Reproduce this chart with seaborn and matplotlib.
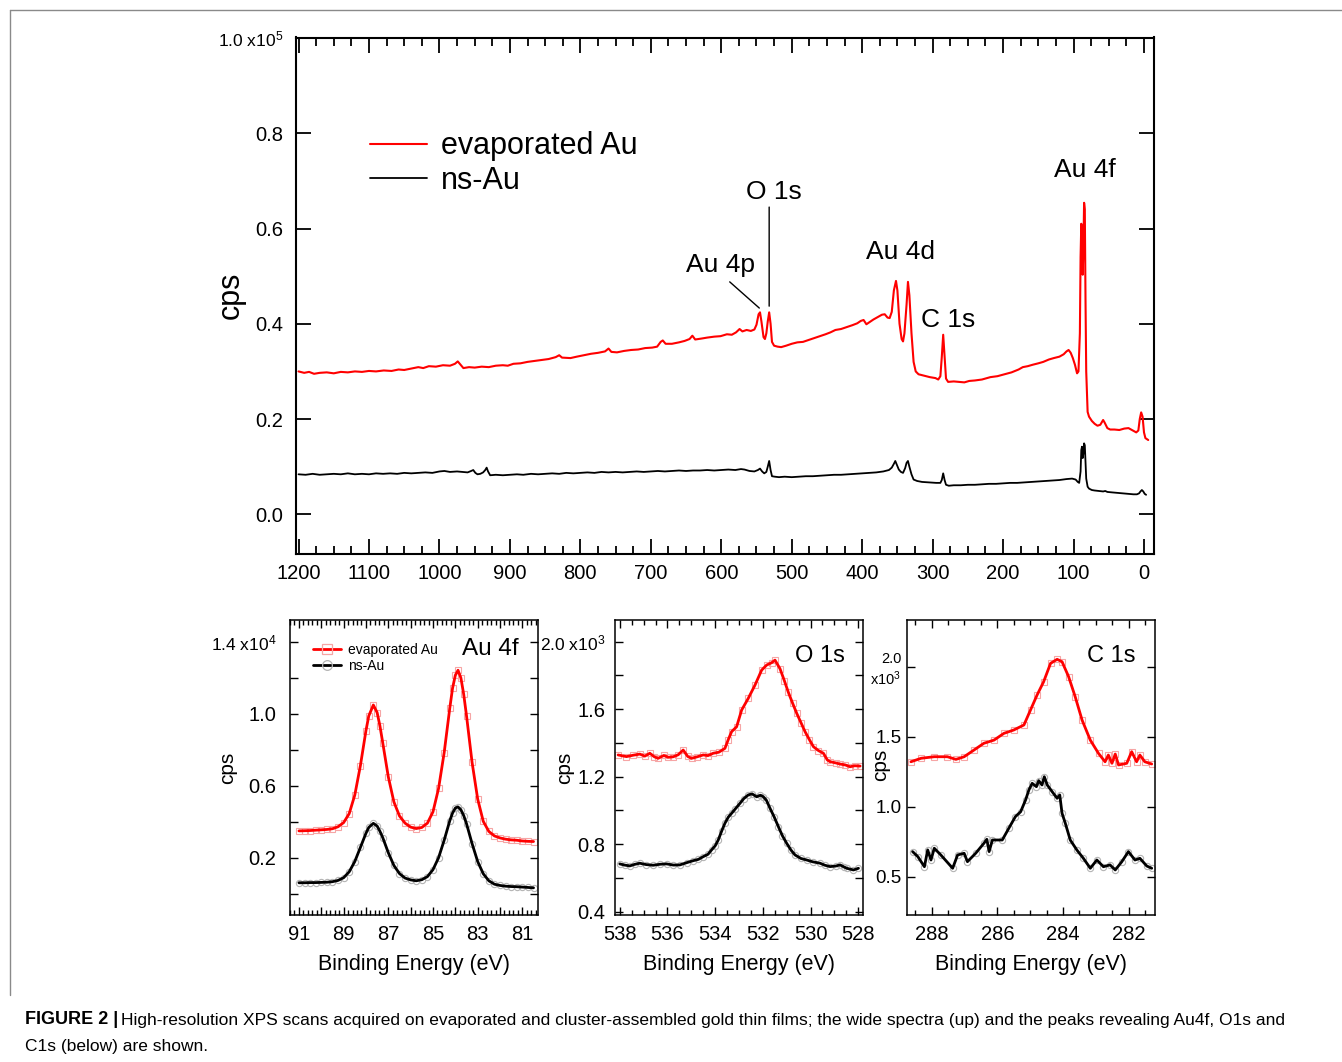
import matplotlib
matplotlib.use("Agg")
import matplotlib.pyplot as plt
from matplotlib.lines import Line2D
from matplotlib.ticker import FixedLocator, FuncFormatter, MultipleLocator
import pandas as pd
import seaborn as sns

# ---- wide survey (cps in units of 1e5) ----
survey_be_evap = [
    1200, 1192, 1185, 1178, 1170, 1160, 1150, 1140, 1130, 1120,
    1110, 1100, 1090, 1079, 1068, 1058, 1050, 1040, 1030, 1023,
    1015, 1005, 995, 985, 978, 974, 970, 966, 958, 950,
    940, 930, 920, 910, 903, 895, 885, 875, 865, 855,
    845, 835, 830, 826, 814, 805, 795, 785, 775, 765,
    760, 756, 748, 738, 728, 718, 708, 698, 691, 686,
    683, 679, 670, 660, 652, 645, 641, 637, 628, 620,
    610, 601, 592, 585, 579, 574, 570, 564, 558, 553,
    550, 547, 545, 543, 540, 538, 536, 534, 532, 530,
    528, 525, 520, 515, 508, 500, 492, 484, 476, 468,
    460, 452, 445, 438, 430, 422, 414, 407, 402, 398,
    394, 390, 384, 378, 372, 368, 364, 361, 358, 355,
    352, 350, 347, 344, 342, 340, 337, 335, 333, 330,
    327, 324, 320, 312, 304, 296, 292, 289, 287, 285,
    283, 281, 278, 270, 262, 255, 248, 240, 230, 218,
    208, 198, 188, 178, 172, 165, 158, 150, 143, 135,
    128, 120, 114, 110, 107, 104, 101, 98, 95, 93,
    91, 90, 89, 88, 87, 86, 85, 84, 83, 82,
    80, 78, 74, 70, 66, 62, 58, 56, 52, 48,
    42, 35, 28, 22, 16, 11, 8, 6, 4, 2,
    0, -2, -6,
]
survey_cps_evap = [
    0.300, 0.297, 0.299, 0.295, 0.297, 0.298, 0.296, 0.299, 0.298, 0.300,
    0.299, 0.301, 0.300, 0.302, 0.301, 0.304, 0.303, 0.306, 0.309, 0.307,
    0.311, 0.310, 0.313, 0.312, 0.316, 0.321, 0.314, 0.307, 0.309, 0.308,
    0.310, 0.309, 0.312, 0.313, 0.312, 0.316, 0.317, 0.320, 0.322, 0.324,
    0.326, 0.330, 0.334, 0.329, 0.328, 0.331, 0.334, 0.337, 0.339, 0.342,
    0.348, 0.341, 0.340, 0.343, 0.345, 0.346, 0.349, 0.350, 0.352, 0.362,
    0.365, 0.358, 0.358, 0.361, 0.364, 0.368, 0.375, 0.367, 0.369, 0.371,
    0.373, 0.374, 0.378, 0.377, 0.382, 0.389, 0.384, 0.387, 0.385, 0.388,
    0.398, 0.420, 0.424, 0.405, 0.372, 0.368, 0.380, 0.405, 0.424, 0.400,
    0.362, 0.354, 0.352, 0.351, 0.354, 0.358, 0.361, 0.362, 0.366, 0.370,
    0.374, 0.378, 0.382, 0.387, 0.389, 0.393, 0.397, 0.401, 0.406, 0.408,
    0.399, 0.403, 0.409, 0.414, 0.419, 0.420, 0.413, 0.412, 0.425, 0.470,
    0.490, 0.470, 0.400, 0.368, 0.363, 0.380, 0.440, 0.488, 0.460, 0.380,
    0.320, 0.300, 0.294, 0.291, 0.288, 0.286, 0.283, 0.290, 0.330, 0.377,
    0.330, 0.285, 0.278, 0.279, 0.278, 0.277, 0.280, 0.281, 0.283, 0.288,
    0.290, 0.294, 0.298, 0.304, 0.309, 0.311, 0.314, 0.317, 0.320, 0.325,
    0.328, 0.331, 0.336, 0.342, 0.345, 0.339, 0.328, 0.314, 0.296, 0.300,
    0.380, 0.540, 0.610, 0.590, 0.503, 0.560, 0.654, 0.640, 0.450, 0.300,
    0.215, 0.205, 0.196, 0.190, 0.186, 0.188, 0.198, 0.193, 0.181, 0.178,
    0.178, 0.177, 0.180, 0.181, 0.176, 0.172, 0.176, 0.200, 0.214, 0.205,
    0.172, 0.160, 0.156,
]
survey_be_ns = [
    1200, 1190, 1180, 1170, 1160, 1150, 1140, 1130, 1120, 1110,
    1100, 1090, 1080, 1070, 1060, 1050, 1040, 1030, 1020, 1010,
    1000, 993, 985, 975, 968, 960, 955, 952, 949, 946,
    942, 938, 935, 933, 931, 928, 920, 910, 900, 890,
    881, 870, 860, 850, 840, 830, 820, 810, 800, 790,
    780, 770, 760, 750, 740, 730, 720, 710, 700, 690,
    680, 670, 660, 650, 640, 630, 620, 610, 600, 590,
    580, 572, 567, 560, 553, 548, 545, 542, 539, 536,
    534, 532, 530, 528, 524, 518, 510, 500, 490, 480,
    470, 460, 450, 440, 430, 420, 410, 400, 390, 380,
    370, 362, 358, 355, 353, 351, 348, 345, 342, 339,
    337, 335, 333, 330, 327, 322, 315, 305, 295, 289,
    287, 285, 283, 281, 277, 270, 260, 250, 240, 230,
    220, 210, 200, 190, 180, 170, 160, 150, 140, 130,
    120, 110, 102, 97, 94, 92, 90, 89, 88, 87,
    86, 85, 84, 83, 82, 80, 78, 74, 70, 64,
    58, 55, 52, 45, 38, 30, 22, 15, 10, 7,
    5, 3, 1, -1, -3,
]
survey_cps_ns = [
    0.084, 0.083, 0.085, 0.083, 0.084, 0.085, 0.084, 0.086, 0.084, 0.085,
    0.084, 0.086, 0.085, 0.086, 0.085, 0.087, 0.086, 0.087, 0.088, 0.087,
    0.090, 0.091, 0.089, 0.090, 0.089, 0.088, 0.091, 0.093, 0.087, 0.084,
    0.085, 0.088, 0.093, 0.098, 0.090, 0.082, 0.083, 0.082, 0.083, 0.084,
    0.083, 0.085, 0.084, 0.085, 0.086, 0.085, 0.087, 0.086, 0.087, 0.088,
    0.087, 0.089, 0.088, 0.089, 0.088, 0.089, 0.090, 0.089, 0.090, 0.091,
    0.090, 0.091, 0.092, 0.091, 0.092, 0.092, 0.093, 0.092, 0.093, 0.094,
    0.093, 0.095, 0.094, 0.091, 0.090, 0.093, 0.096, 0.090, 0.086, 0.089,
    0.100, 0.112, 0.093, 0.080, 0.079, 0.078, 0.079, 0.078, 0.079, 0.080,
    0.080, 0.081, 0.082, 0.083, 0.083, 0.084, 0.085, 0.086, 0.087, 0.088,
    0.090, 0.093, 0.098, 0.106, 0.112, 0.105, 0.094, 0.089, 0.087, 0.097,
    0.108, 0.112, 0.100, 0.084, 0.073, 0.070, 0.068, 0.067, 0.066, 0.066,
    0.072, 0.086, 0.072, 0.062, 0.060, 0.061, 0.061, 0.062, 0.062, 0.063,
    0.064, 0.064, 0.065, 0.066, 0.066, 0.067, 0.068, 0.069, 0.070, 0.071,
    0.072, 0.074, 0.075, 0.073, 0.068, 0.066, 0.090, 0.135, 0.142, 0.118,
    0.128, 0.149, 0.145, 0.110, 0.075, 0.058, 0.054, 0.051, 0.050, 0.049,
    0.048, 0.049, 0.047, 0.046, 0.045, 0.044, 0.043, 0.042, 0.042, 0.044,
    0.048, 0.051, 0.048, 0.043, 0.041,
]

# peak labels of the survey: (text, eV, cps)
survey_labels = [("Au 4p", 601, 0.523), ("O 1s", 526, 0.676), ("Au 4d", 346, 0.550),
                 ("C 1s", 278, 0.408), ("Au 4f", 84, 0.722)]

# ---- Au 4f (cps in units of 1e4) ----
au4f_be = [
    91.0, 90.75, 90.5, 90.25, 90.0, 89.75, 89.5, 89.25, 89.0, 88.75,
    88.5, 88.25, 88.0, 87.875, 87.67, 87.5, 87.375, 87.25, 87.0, 86.75,
    86.5, 86.25, 86.0, 85.75, 85.5, 85.25, 85.0, 84.75, 84.5, 84.25,
    84.125, 84.0, 83.88, 83.75, 83.625, 83.5, 83.25, 83.0, 82.75, 82.5,
    82.25, 82.0, 81.75, 81.5, 81.25, 81.0, 80.75, 80.5,
]
au4f_evap = [
    0.349, 0.350, 0.351, 0.353, 0.355, 0.357, 0.361, 0.372, 0.395, 0.445,
    0.548, 0.711, 0.906, 0.987, 1.048, 1.006, 0.932, 0.839, 0.649, 0.510,
    0.432, 0.392, 0.370, 0.362, 0.368, 0.392, 0.455, 0.585, 0.783, 1.029,
    1.141, 1.213, 1.241, 1.198, 1.107, 0.989, 0.729, 0.526, 0.402, 0.346,
    0.321, 0.310, 0.303, 0.299, 0.297, 0.293, 0.291, 0.290,
]
au4f_ns = [
    0.061, 0.061, 0.062, 0.062, 0.063, 0.064, 0.067, 0.074, 0.089, 0.122,
    0.179, 0.257, 0.336, 0.368, 0.391, 0.376, 0.347, 0.312, 0.228, 0.157,
    0.112, 0.087, 0.077, 0.072, 0.078, 0.095, 0.134, 0.200, 0.297, 0.405,
    0.448, 0.476, 0.482, 0.466, 0.434, 0.389, 0.278, 0.179, 0.111, 0.072,
    0.053, 0.046, 0.042, 0.040, 0.039, 0.037, 0.035, 0.033,
]

# ---- O 1s (cps in units of 1e3) ----
o1s_be_evap = [
    538.07, 537.72, 537.45, 537.16, 536.95, 536.74, 536.55, 536.39, 536.15, 535.96,
    535.76, 535.55, 535.34, 535.15, 534.99, 534.75, 534.50, 534.30, 534.08, 533.85,
    533.59, 533.45, 533.31, 533.10, 532.89, 532.61, 532.33, 532.05, 531.84, 531.63,
    531.49, 531.28, 531.10, 530.93, 530.75, 530.58, 530.40, 530.23, 530.05, 529.88,
    529.67, 529.46, 529.30, 529.18, 528.95, 528.76, 528.55, 528.34, 528.15, 527.92,
]
o1s_evap = [
    1.329, 1.319, 1.327, 1.334, 1.322, 1.339, 1.318, 1.309, 1.326, 1.315,
    1.318, 1.330, 1.358, 1.320, 1.309, 1.318, 1.329, 1.325, 1.339, 1.345,
    1.368, 1.420, 1.467, 1.496, 1.595, 1.665, 1.743, 1.832, 1.862, 1.876,
    1.891, 1.840, 1.770, 1.700, 1.635, 1.576, 1.520, 1.467, 1.420, 1.378,
    1.355, 1.339, 1.300, 1.289, 1.282, 1.275, 1.270, 1.259, 1.265, 1.263,
]
o1s_be_ns = [
    538.00, 537.80, 537.58, 537.38, 537.16, 536.90, 536.60, 536.30, 536.04, 535.75,
    535.48, 535.20, 534.92, 534.70, 534.50, 534.30, 534.15, 534.00, 533.87, 533.72,
    533.59, 533.45, 533.31, 533.15, 532.96, 532.80, 532.61, 532.45, 532.26, 532.10,
    531.98, 531.85, 531.70, 531.52, 531.35, 531.18, 531.00, 530.82, 530.65, 530.40,
    530.16, 529.90, 529.60, 529.40, 529.18, 528.95, 528.76, 528.60, 528.48, 528.20,
    527.99,
]
o1s_ns = [
    0.683, 0.676, 0.671, 0.680, 0.687, 0.679, 0.675, 0.681, 0.683, 0.676,
    0.677, 0.690, 0.702, 0.710, 0.726, 0.740, 0.766, 0.790, 0.825, 0.880,
    0.924, 0.960, 0.983, 1.010, 1.042, 1.070, 1.092, 1.098, 1.081, 1.090,
    1.081, 1.060, 1.013, 0.960, 0.904, 0.850, 0.805, 0.765, 0.736, 0.715,
    0.706, 0.695, 0.687, 0.675, 0.667, 0.670, 0.677, 0.665, 0.657, 0.647,
    0.657,
]

# ---- C 1s (cps in units of 1e3) ----
c1s_be_evap = [
    288.63, 288.32, 287.92, 287.52, 287.26, 287.01, 286.71, 286.41, 286.10, 285.80,
    285.50, 285.19, 284.99, 284.79, 284.59, 284.38, 284.18, 284.03, 283.83, 283.63,
    283.42, 283.17, 282.92, 282.72, 282.62, 282.51, 282.41, 282.31, 282.06, 281.91,
    281.76, 281.66, 281.51, 281.30,
]
c1s_evap = [
    1.321, 1.346, 1.357, 1.357, 1.338, 1.357, 1.405, 1.453, 1.476, 1.524,
    1.548, 1.584, 1.691, 1.798, 1.893, 2.024, 2.053, 2.036, 1.929, 1.786,
    1.619, 1.476, 1.381, 1.321, 1.369, 1.310, 1.376, 1.298, 1.310, 1.393,
    1.321, 1.369, 1.321, 1.305,
]
c1s_be_ns = [
    288.58, 288.42, 288.22, 288.12, 288.02, 287.92, 287.72, 287.36, 287.21, 287.01,
    286.91, 286.66, 286.41, 286.32, 286.25, 286.15, 285.85, 285.65, 285.45, 285.29,
    285.14, 285.04, 284.94, 284.81, 284.74, 284.64, 284.57, 284.48, 284.33, 284.18,
    284.10, 284.03, 283.93, 283.78, 283.58, 283.38, 283.17, 282.97, 282.77, 282.57,
    282.41, 282.21, 282.01, 281.81, 281.66, 281.45, 281.30,
]
c1s_ns = [
    0.679, 0.643, 0.571, 0.691, 0.619, 0.703, 0.655, 0.560, 0.655, 0.667,
    0.607, 0.667, 0.738, 0.767, 0.679, 0.762, 0.762, 0.846, 0.929, 0.964,
    1.048, 1.119, 1.167, 1.143, 1.186, 1.155, 1.214, 1.155, 1.107, 1.060,
    1.084, 0.953, 0.881, 0.762, 0.691, 0.631, 0.560, 0.619, 0.571, 0.584,
    0.548, 0.607, 0.679, 0.619, 0.631, 0.576, 0.560,
]

SERIES = ["evaporated Au", "ns-Au"]
LINE_COLORS = {"evaporated Au": "#ff0000", "ns-Au": "#000000"}
HALO_COLORS = {"evaporated Au": "#f6a5a5", "ns-Au": "#b4b4b4"}
HALO_MARKERS = {"evaporated Au": "s", "ns-Au": "o"}

CAPTION_BOLD = "FIGURE 2 |"
CAPTION = ("High-resolution XPS scans acquired on evaporated and cluster-assembled gold thin films; "
           "the wide spectra (up) and the peaks revealing Au4f, O1s and\nC1s (below) are shown.")

W, H = 1342, 1062
FONT = ["Liberation Sans", "DejaVu Sans"]

sns.set_style("white")
plt.rcParams["font.family"] = FONT
plt.rcParams["mathtext.fontset"] = "custom"
plt.rcParams["mathtext.rm"] = "Liberation Sans"
plt.rcParams["mathtext.it"] = "Liberation Sans:italic"
for key in ["text.color", "axes.labelcolor", "xtick.color", "ytick.color"]:
    plt.rcParams[key] = "black"


def px_box(left, top, right, bottom):
    return [left / W, 1 - bottom / H, (right - left) / W, (bottom - top) / H]


def frame(df_evap, df_ns):
    df_evap = df_evap.assign(sample=SERIES[0])
    df_ns = df_ns.assign(sample=SERIES[1])
    return pd.concat([df_evap, df_ns], ignore_index=True)


fig = plt.figure(figsize=(W / 100, H / 100), dpi=100)

# ---------------- survey ----------------
ax = fig.add_axes(px_box(295.5, 37.5, 1153.5, 554))
survey = frame(pd.DataFrame({"be": survey_be_evap, "cps": survey_cps_evap}),
               pd.DataFrame({"be": survey_be_ns, "cps": survey_cps_ns}))
sns.lineplot(data=survey[survey["sample"] == SERIES[0]], x="be", y="cps", color="#ff0000",
             lw=1.5, label=SERIES[0], ax=ax)
sns.lineplot(data=survey[survey["sample"] == SERIES[1]], x="be", y="cps", color="black",
             lw=1.3, label=SERIES[1], ax=ax)
ax.set_xlim(1204.3, -13.5)
ax.set_ylim(-0.0833, 1.001)
ax.xaxis.set_major_locator(MultipleLocator(100))
ax.xaxis.set_minor_locator(MultipleLocator(25))
ax.tick_params(axis="x", which="both", direction="in", top=True, bottom=True, width=1.3,
               labelsize=14.5, pad=7)
ax.tick_params(axis="x", which="major", length=11)
ax.tick_params(axis="x", which="minor", length=6)
ax.set_yticks([0.0, 0.2, 0.4, 0.6, 0.8, 1.0],
              labels=["0.0", "0.2", "0.4", "0.6", "0.8", "1.0 x10$^5$"])
ax.tick_params(axis="y", direction="in", left=True, right=True, length=11, width=1.3,
               labelsize=14.5, pad=9)
ax.get_yticklabels()[-1].set_fontsize(12.5)
for s in ax.spines.values():
    s.set_linewidth(1.5)
    s.set_color("black")
ax.set_xlabel("")
ax.set_ylabel("cps", fontsize=22)
ax.yaxis.set_label_coords(-0.058, 0.5)
ax.legend(loc="upper left", bbox_to_anchor=(0.073, 0.842), frameon=False, fontsize=22,
          handlelength=1.85, handletextpad=0.45, labelspacing=0.15, borderaxespad=0)

for text, x, y in survey_labels:
    ax.text(x, y, text, fontsize=19, ha="center", va="center")
ax.annotate("", xy=(546, 0.433), xytext=(588, 0.488),
            arrowprops=dict(arrowstyle="-", lw=1, color="black", shrinkA=0, shrinkB=0))
ax.annotate("", xy=(532, 0.437), xytext=(532, 0.645),
            arrowprops=dict(arrowstyle="-", lw=1, color="black", shrinkA=0, shrinkB=0))


# ---------------- detail panels ----------------
def detail_panel(ax, be_evap, cps_evap, be_ns, cps_ns):
    data = frame(pd.DataFrame({"be": be_evap, "cps": cps_evap}),
                 pd.DataFrame({"be": be_ns, "cps": cps_ns}))
    for name in SERIES:
        sub = data[data["sample"] == name]
        sns.lineplot(data=sub, x="be", y="cps", ls="", marker=HALO_MARKERS[name], ms=4.5,
                     mfc="none", mec=HALO_COLORS[name], mew=0.8, ax=ax, zorder=2)
        sns.lineplot(data=sub, x="be", y="cps", color=LINE_COLORS[name], lw=2.0, ax=ax,
                     zorder=3)
    ax.set_xlabel("Binding Energy (eV)", fontsize=15.5)
    ax.xaxis.set_label_coords(0.5, -0.133)
    ax.tick_params(axis="both", which="both", direction="in", top=True, bottom=True,
                   left=True, right=True, width=1.0, labelsize=14.5)
    ax.tick_params(axis="both", which="major", length=6)
    ax.tick_params(axis="both", which="minor", length=3.5)
    ax.tick_params(axis="x", pad=7)
    for s in ax.spines.values():
        s.set_linewidth(1.1)
        s.set_color("black")


def odd_only(v, pos):
    return f"{v:.0f}" if round(v) % 2 == 1 else ""


ax1 = fig.add_axes(px_box(290, 620, 538, 915))
detail_panel(ax1, au4f_be, au4f_evap, au4f_be, au4f_ns)
ax1.set_xlim(91.4, 80.3)
ax1.xaxis.set_major_locator(FixedLocator(list(range(81, 92))))
ax1.xaxis.set_major_formatter(FuncFormatter(odd_only))
ax1.xaxis.set_minor_locator(MultipleLocator(0.2))
ax1.set_ylim(-0.118, 1.52)
ax1.set_yticks([0.0, 0.2, 0.4, 0.6, 0.8, 1.0, 1.2, 1.4],
               labels=["", "0.2", "", "0.6", "", "1.0", "", "1.4 x10$^4$"])
ax1.get_yticklabels()[-1].set_fontsize(12.5)
ax1.tick_params(axis="y", pad=10)
ax1.set_ylabel("cps", fontsize=15)
ax1.yaxis.set_label_coords(-0.214, 0.5)
ax1.text(0.806, 0.902, "Au 4f", transform=ax1.transAxes, fontsize=17.5, ha="center", va="center")
handles = [Line2D([], [], color=LINE_COLORS[n], lw=2, marker=HALO_MARKERS[n], ms=7, mfc="none",
                  mec=HALO_COLORS[n], mew=0.9) for n in SERIES]
ax1.legend(handles, SERIES, loc="upper left", bbox_to_anchor=(0.07, 0.94), frameon=False,
           fontsize=10, handlelength=2.0, handletextpad=0.5, labelspacing=0.15, borderaxespad=0)

ax2 = fig.add_axes(px_box(615, 620, 863, 915))
detail_panel(ax2, o1s_be_evap, o1s_evap, o1s_be_ns, o1s_ns)
ax2.set_xlim(538.2, 527.8)
ax2.xaxis.set_major_locator(MultipleLocator(2))
ax2.xaxis.set_minor_locator(MultipleLocator(0.5))
ax2.set_ylim(0.38, 2.129)
ax2.set_yticks([0.4, 0.6, 0.8, 1.0, 1.2, 1.4, 1.6, 1.8, 2.0],
               labels=["0.4", "", "0.8", "", "1.2", "", "1.6", "", "2.0 x10$^3$"])
ax2.get_yticklabels()[-1].set_fontsize(12.5)
ax2.tick_params(axis="y", pad=7)
ax2.set_ylabel("cps", fontsize=15)
ax2.yaxis.set_label_coords(-0.166, 0.5)
ax2.text(0.827, 0.878, "O 1s", transform=ax2.transAxes, fontsize=17, ha="center", va="center")

ax3 = fig.add_axes(px_box(907, 620, 1155, 915))
detail_panel(ax3, c1s_be_evap, c1s_evap, c1s_be_ns, c1s_ns)
ax3.set_xlim(288.75, 281.2)
ax3.xaxis.set_major_locator(MultipleLocator(2))
ax3.xaxis.set_minor_locator(MultipleLocator(0.5))
ax3.set_ylim(0.226, 2.334)
ax3.set_yticks([0.5, 1.0, 1.5, 2.0], labels=["0.5", "1.0", "1.5", "2.0\nx10$^3$"])
ax3.tick_params(axis="y", pad=4, labelsize=13.5)
ax3.get_yticklabels()[-1].set_fontsize(10.5)
ax3.set_ylabel("cps", fontsize=15)
ax3.yaxis.set_label_coords(-0.07, 0.51)
ax3.text(0.823, 0.878, "C 1s", transform=ax3.transAxes, fontsize=17, ha="center", va="center")

# ---------------- frame and caption ----------------
fig.add_artist(Line2D([10 / W, 1.0], [1 - 10 / H, 1 - 10 / H], transform=fig.transFigure,
                      color="#8a8a8a", lw=1))
fig.add_artist(Line2D([10 / W, 10 / W], [1 - 10 / H, 1 - 995 / H], transform=fig.transFigure,
                      color="#8a8a8a", lw=1))

cap_family = ["Liberation Sans Narrow", "Liberation Sans", "DejaVu Sans"]
bold = fig.text(25 / W, 1 - 1020 / H, CAPTION_BOLD, fontsize=13, weight="bold",
                family=cap_family, va="center")
fig.canvas.draw()
renderer = fig.canvas.get_renderer()
bx1 = bold.get_window_extent(renderer).x1
body = fig.text((bx1 + 3) / W, 1 - 1020 / H, CAPTION.split("\n")[0], fontsize=13,
                family=cap_family, va="center")
fig.canvas.draw()
width = body.get_window_extent(renderer).width
fs = 13 * (1280 - bx1 - 3) / width
body.set_fontsize(fs)
fig.text(25 / W, 1 - 1046 / H, CAPTION.split("\n")[1], fontsize=fs, family=cap_family,
         va="center")

fig.savefig("out.png", dpi=100)
